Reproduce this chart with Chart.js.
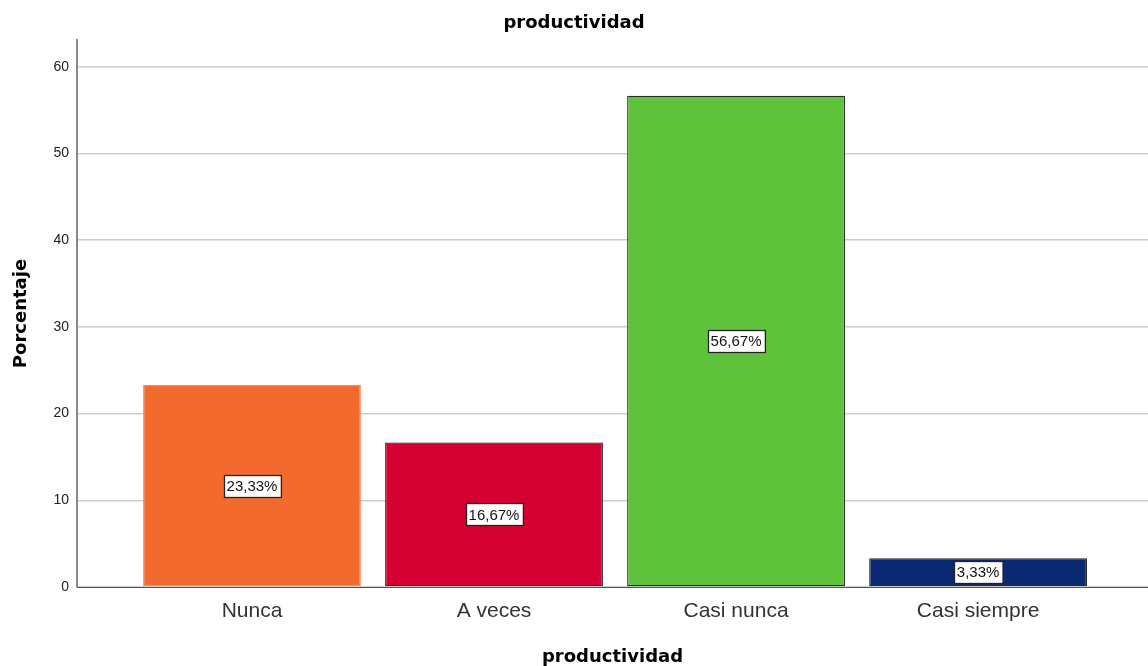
<!DOCTYPE html>
<html>
<head>
<meta charset="utf-8">
<script src="https://cdn.jsdelivr.net/npm/chart.js@4.4.0/dist/chart.umd.min.js"></script>
<style>
  body { margin: 0; background: #fff; }
  canvas { display: block; }
</style>
</head>
<body>
<canvas id="chart" width="1148" height="666"></canvas>
<script>
const categories = ["Nunca", "A veces", "Casi nunca", "Casi siempre"];
const percentages = [23.33, 16.67, 56.67, 3.33];
const barColors = ["#F26A2D", "#D50032", "#5EC33A", "#0B2873"];
const barBorders = ["#F58F60", "#2b2b2b", "#2b2b2b", "#2b2b2b"];
const yTicks = [0, 10, 20, 30, 40, 50, 60];

const titleFont = { family: "'DejaVu Sans', sans-serif", size: 18, weight: "bold" };

// white boxed percentage in the middle of each bar
const boxLabels = {
    id: "boxLabels",
    afterDatasetsDraw(chart) {
        const ctx = chart.ctx;
        const meta = chart.getDatasetMeta(0);
        ctx.save();
        ctx.font = "15px 'Liberation Sans', Arial, sans-serif";
        ctx.textAlign = "center";
        ctx.textBaseline = "middle";
        meta.data.forEach((bar, i) => {
            const txt = percentages[i].toFixed(2).replace(".", ",") + "%";
            const cy = (bar.y + bar.base) / 2;
            const w = ctx.measureText(txt).width + 6;
            const h = 22;
            const left = Math.round(bar.x - w / 2) + 0.5;
            const top = Math.round(cy - h / 2) + 0.5;
            ctx.fillStyle = "#fff";
            ctx.fillRect(left, top, w, h);
            ctx.strokeStyle = "#222";
            ctx.lineWidth = 1.3;
            ctx.strokeRect(left, top, w, h);
            ctx.fillStyle = "#111";
            ctx.fillText(txt, bar.x, cy + 1);
        });
        ctx.restore();
    }
};

const ctx = document.getElementById("chart").getContext("2d");
new Chart(ctx, {
    type: "bar",
    data: {
        datasets: [{
            label: "productividad",
            data: percentages.map((v, i) => ({ x: i, y: v })),
            backgroundColor: barColors,
            borderColor: barBorders,
            borderWidth: 1.2,
            borderSkipped: false,
            categoryPercentage: 1,
            barPercentage: 0.9
        }]
    },
    options: {
        responsive: false,
        animation: false,
        plugins: {
            legend: { display: false },
            tooltip: { enabled: false },
            title: {
                display: true,
                text: "productividad",
                color: "#000",
                font: titleFont,
                padding: { top: 13, bottom: 5.4 }
            }
        },
        scales: {
            x: {
                type: "linear",
                min: -0.723,
                max: 3.702,
                offset: false,
                grid: { display: false, drawTicks: false },
                border: { display: true, color: "#555", width: 1 },
                ticks: {
                    stepSize: 1,
                    includeBounds: false,
                    autoSkip: false,
                    maxRotation: 0,
                    padding: 12,
                    color: "#333",
                    font: { family: "'Liberation Sans', Arial, sans-serif", size: 21 },
                    callback: v => Number.isInteger(v) ? categories[v] : ""
                },
                title: {
                    display: true,
                    text: "productividad",
                    color: "#000",
                    font: titleFont,
                    padding: { top: 0, bottom: -2 }
                },
                afterFit: s => { s.height = 79; }
            },
            y: {
                min: 0,
                max: 63.1,
                grid: { color: "#cdcdcd", lineWidth: 1.5, drawTicks: false },
                border: { color: "#888", width: 2 },
                ticks: {
                    stepSize: 10,
                    includeBounds: false,
                    padding: 8,
                    color: "#222",
                    font: { family: "'Liberation Sans', Arial, sans-serif", size: 14 },
                    callback: v => yTicks.includes(v) ? v : ""
                },
                title: {
                    display: true,
                    text: "Porcentaje",
                    color: "#000",
                    font: titleFont,
                    padding: { top: 11, bottom: 0 }
                },
                afterFit: s => { s.width = 77; }
            }
        }
    },
    plugins: [boxLabels]
});
</script>
</body>
</html>
